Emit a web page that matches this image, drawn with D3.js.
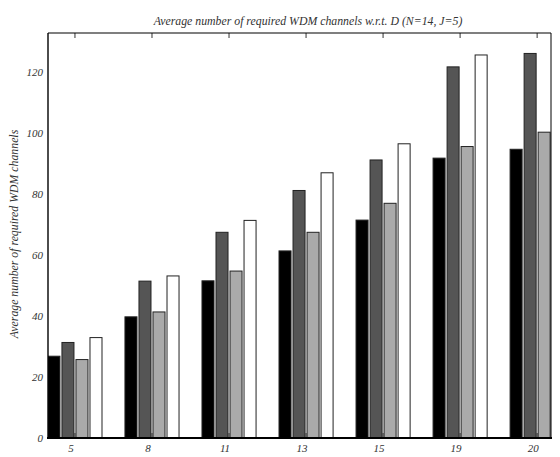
<!DOCTYPE html>
<html><head><meta charset="utf-8">
<script src="https://cdn.jsdelivr.net/npm/d3@7"></script>
<style>body{margin:0;background:#fff}svg{display:block}text{font-family:"Liberation Serif","DejaVu Serif",serif;font-style:italic;fill:#333}</style>
</head><body><svg id="c" width="560" height="457"></svg>
<script>
const categories = ["5","8","11","13","15","19","20"];
const seriesA = [26.8, 39.7, 51.5, 61.3, 71.4, 91.7, 94.6];
const seriesB = [31.3, 51.4, 67.4, 81.1, 91.1, 121.6, 126.0];
const seriesC = [25.7, 41.3, 54.7, 67.4, 76.9, 95.5, 100.2];
const seriesD = [32.9, 53.1, 71.3, 86.9, 96.4, 125.5, 130.0];
const yTicks = [0, 20, 40, 60, 80, 100, 120];
const series = [seriesA, seriesB, seriesC, seriesD];
const colors = ["#000000", "#555555", "#aaaaaa", "#ffffff"];

const svg = d3.select("#c");
const L = 48, R = 551, T = 33, B = 438;
const x = d3.scaleLinear().domain([-0.35, 6.18]).range([L, R]);
const y = d3.scaleLinear().domain([0, 132.7]).range([B, T]);
const pitch = 0.182, bw = 0.156;

svg.append("clipPath").attr("id","clip").append("rect").attr("x",L).attr("y",T).attr("width",R-L).attr("height",B-T);

const g = svg.append("g").attr("clip-path","url(#clip)");
g.selectAll(".bt").data(categories).enter().append("line")
  .attr("x1",(d,i)=>x(i)).attr("x2",(d,i)=>x(i)).attr("y1",B).attr("y2",B-5)
  .attr("stroke","#333").attr("stroke-width",1);

series.forEach((s, k) => {
  g.selectAll(".s"+k).data(s).enter().append("rect")
    .attr("x",(d,i)=>x(i + (k-1.5)*pitch - bw/2))
    .attr("width", x(bw) - x(0))
    .attr("y", d=>y(d))
    .attr("height", d=>y(0)-y(d))
    .attr("fill", colors[k])
    .attr("stroke", "#222").attr("stroke-width", 1);
});

svg.selectAll(".tt").data(categories).enter().append("line")
  .attr("x1",(d,i)=>x(i)).attr("x2",(d,i)=>x(i)).attr("y1",T).attr("y2",T+5)
  .attr("stroke","#333").attr("stroke-width",1);

svg.append("line").attr("x1",L).attr("x2",R).attr("y1",T).attr("y2",T).attr("stroke","#000").attr("stroke-width",1.2);
svg.append("line").attr("x1",R).attr("x2",R).attr("y1",T).attr("y2",B).attr("stroke","#000").attr("stroke-width",1);
svg.append("line").attr("x1",L).attr("x2",L).attr("y1",T).attr("y2",B).attr("stroke","#000").attr("stroke-width",1.4);
svg.append("line").attr("x1",L-1).attr("x2",R+1).attr("y1",B).attr("y2",B).attr("stroke","#000").attr("stroke-width",2);

svg.selectAll(".yl").data(yTicks).enter().append("text")
  .attr("x", L-5).attr("y", d=>y(d)).attr("dy","0.35em")
  .attr("text-anchor","end").attr("font-size",11).text(d=>d);

svg.selectAll(".xl").data(categories).enter().append("text")
  .attr("x",(d,i)=>x(i)-4).attr("y",452)
  .attr("text-anchor","middle").attr("font-size",11).text(d=>d);

svg.append("text").attr("x",308).attr("y",25).attr("text-anchor","middle")
  .attr("font-size",11.8).text("Average number of required WDM channels w.r.t. D (N=14, J=5)");

svg.append("text").attr("transform","translate(18,234) rotate(-90)").attr("text-anchor","middle")
  .attr("font-size",11.8).text("Average number of required WDM channels");
</script></body></html>
